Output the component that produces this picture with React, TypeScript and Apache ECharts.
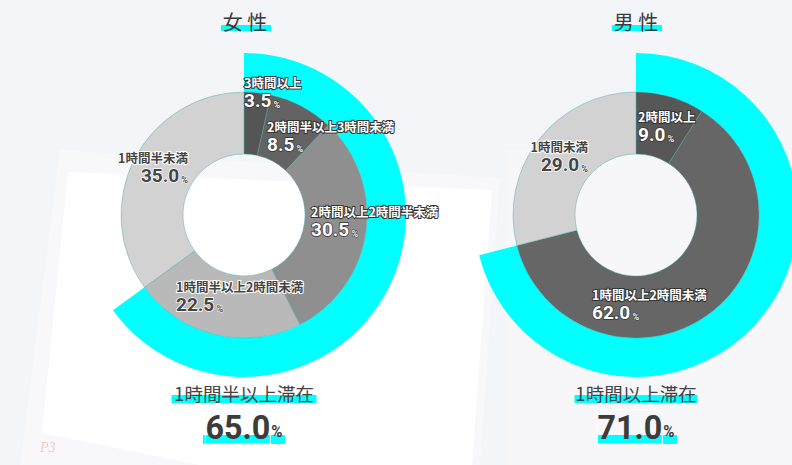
import React, { useEffect, useRef } from "react";
import * as echarts from "echarts";

// ---- data ----
const femaleCategories = [
  "3時間以上",
  "2時間半以上3時間未満",
  "2時間以上2時間半未満",
  "1時間半以上2時間未満",
  "1時間半未満",
];
const femaleValues = [3.5, 8.5, 30.5, 22.5, 35.0];
const femaleStayLabel = "1時間半以上滞在";
const femaleStay = 65.0;

const maleCategories = ["2時間以上", "1時間以上2時間未満", "1時間未満"];
const maleValues = [9.0, 62.0, 29.0];
const maleStayLabel = "1時間以上滞在";
const maleStay = 71.0;

const titles = ["女 性", "男 性"];

// ---- styles / layout ----
const femaleColors = ["#555555", "#636363", "#8f8f8f", "#b9b9b9", "#d2d2d2"];
const maleColors = ["#575757", "#666666", "#d2d2d2"];
const femaleDark = [true, true, true, false, false];
const maleDark = [true, true, false];
// label anchor positions [x, y, align]
const femaleLabelPos: [number, number, string][] = [
  [244, 75, "left"],
  [267, 119, "left"],
  [311, 204, "left"],
  [176, 279, "left"],
  [188, 150, "right"],
];
const maleLabelPos: [number, number, string][] = [
  [638, 109, "left"],
  [592, 287, "left"],
  [588, 139, "right"],
];
const CJK = '"Noto Sans CJK JP", "Noto Sans", sans-serif';
const NUM = 'Roboto, "Liberation Sans", sans-serif';
const CYAN = "#00ffff";

function labelRich(dark: boolean) {
  const fill = dark ? "#ffffff" : "#444444";
  const border = dark ? "#333333" : "#ffffff";
  return {
    n: { fontFamily: CJK, fontSize: 12.5, fontWeight: "bold", color: fill, textBorderColor: border, textBorderWidth: 2, lineHeight: 14 },
    v: { fontFamily: NUM, fontSize: 19, fontWeight: "bold", color: fill, textBorderColor: border, textBorderWidth: 1.5, lineHeight: 22 },
    p: { fontFamily: NUM, fontSize: 9, fontWeight: "bold", color: fill, textBorderColor: border, textBorderWidth: 1, lineHeight: 22, verticalAlign: "bottom", padding: [0, 0, 2, 0] },
  };
}

function donutSeries(
  cats: string[],
  vals: number[],
  colors: string[],
  dark: boolean[],
  pos: [number, number, string][],
  center: [number, number]
) {
  return {
    type: "pie",
    center,
    radius: [61, 123],
    startAngle: 90,
    clockwise: true,
    silent: true,
    avoidLabelOverlap: false,
    itemStyle: { borderColor: "rgba(60,170,170,0.7)", borderWidth: 0.6 },
    label: {
      show: true,
      position: "inside",
      formatter: (p: any) => `{n|${p.name}}\n{v|${Number(p.value).toFixed(1)}}{p| %}`,
    },
    labelLine: { show: false },
    labelLayout: (params: any) => {
      const q = pos[params.dataIndex];
      return { x: q[0], y: q[1], align: q[2], verticalAlign: "top" };
    },
    data: cats.map((name, i) => ({
      name,
      value: vals[i],
      itemStyle: { color: colors[i] },
      label: { rich: labelRich(dark[i]), align: pos[i][2] },
    })),
  };
}

function ringSeries(share: number, center: [number, number]) {
  return {
    type: "pie",
    center,
    radius: [123, 162],
    startAngle: 90,
    clockwise: true,
    silent: true,
    label: { show: false },
    labelLine: { show: false },
    data: [
      { value: share, itemStyle: { color: CYAN } },
      { value: 100 - share, itemStyle: { color: "rgba(0,0,0,0)" } },
    ],
  };
}

function headerText(cx: number, title: string) {
  return [
    { type: "rect", shape: { x: cx - 24, y: 25, width: 50, height: 6 }, style: { fill: CYAN }, z: 1 },
    {
      type: "text",
      x: cx,
      y: 21,
      z: 2,
      style: { text: title, fontFamily: CJK, fontSize: 20, fill: "#3a3a3a", align: "center", verticalAlign: "middle" },
    },
  ];
}

function footer(cx: number, label: string, share: number, barW: number, numBar: [number, number]) {
  return [
    { type: "rect", shape: { x: cx - barW / 2, y: 395, width: barW, height: 8 }, style: { fill: CYAN }, z: 1 },
    {
      type: "text",
      x: cx,
      y: 393,
      z: 2,
      style: { text: label, fontFamily: CJK, fontSize: 18.5, fill: "#444444", align: "center", verticalAlign: "middle" },
    },
    { type: "rect", shape: { x: numBar[0], y: 435, width: numBar[1] - numBar[0], height: 9 }, style: { fill: CYAN }, z: 1 },
    {
      type: "text",
      x: cx,
      y: 444,
      scaleX: 0.95,
      z: 2,
      style: {
        text: `{v|${share.toFixed(1)}}{p|%}`,
        align: "center",
        verticalAlign: "bottom",
        rich: {
          v: { fontFamily: NUM, fontSize: 34, fontWeight: "bold", fill: "#3c3c3c", textBorderColor: "#ffffff", textBorderWidth: 1, lineHeight: 38, verticalAlign: "bottom" },
          p: { fontFamily: NUM, fontSize: 16, fontWeight: "bold", fill: "#3c3c3c", lineHeight: 38, verticalAlign: "bottom", padding: [0, 0, 4, 1] },
        },
      },
    },
  ];
}

export default function App() {
  const ref = useRef<HTMLDivElement>(null);
  useEffect(() => {
    document.body.style.margin = "0";
    const chart = echarts.init(ref.current!, null, { renderer: "svg" });
    chart.setOption({
      animation: false,
      backgroundColor: "#f4f5f8",
      graphic: [
        // background decorations
        { type: "polygon", shape: { points: [[60, 150], [500, 178], [480, 465], [20, 465]] }, style: { fill: "#f8f8fa" }, z: -9 },
        { type: "polygon", shape: { points: [[68, 172], [492, 190], [472, 465], [200, 465], [42, 433]] }, style: { fill: "#ffffff" }, z: -8 },
        { type: "rect", shape: { x: 505, y: 150, width: 287, height: 315 }, style: { fill: "#f7f7fa" }, z: -9 },
        { type: "text", x: 40, y: 440, style: { text: "P3", fontFamily: "serif", fontStyle: "italic", fontSize: 14, fill: "#f3c9cf" }, z: -7 },
        ...headerText(245, titles[0]),
        ...headerText(636, titles[1]),
        ...footer(244, femaleStayLabel, femaleStay, 145, [203, 285]),
        ...footer(636, maleStayLabel, maleStay, 123, [598, 677]),
      ],
      series: [
        ringSeries(femaleStay, [244, 215]),
        donutSeries(femaleCategories, femaleValues, femaleColors, femaleDark, femaleLabelPos, [244, 215]),
        ringSeries(maleStay, [636, 215]),
        donutSeries(maleCategories, maleValues, maleColors, maleDark, maleLabelPos, [636, 215]),
      ],
    });
    return () => chart.dispose();
  }, []);
  return <div ref={ref} style={{ position: "fixed", left: 0, top: 0, width: 792, height: 465 }} />;
}
